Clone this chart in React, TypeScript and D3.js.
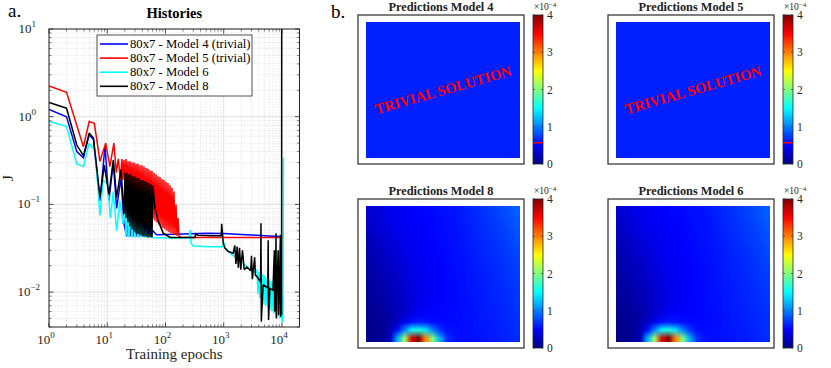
import React, { useMemo } from 'react';
import * as d3 from 'd3';

type Pt = [number, number];

// ---------- Histories (epoch, J) ----------
const historyModel4: Pt[] = [
  [1, 1.21], [2, 1.0], [3, 0.40], [3.9, 0.34], [4.9, 0.62], [5.8, 0.55], [7.5, 0.11], [9.15, 0.46],
  [10.7, 0.11], [12.7, 0.30], [14.5, 0.09], [17.2, 0.20], [19.4, 0.06], [21.6, 0.043], [23.6, 0.16],
  [24.6, 0.043], [26.6, 0.15], [27.7, 0.043], [30.0, 0.14], [31.2, 0.043], [33.7, 0.12], [35.1, 0.043],
  [38.0, 0.11], [39.5, 0.043], [42.7, 0.09], [44.5, 0.043], [48.1, 0.075], [50.1, 0.044], [54.2, 0.06],
  [56.4, 0.044], [61.0, 0.05], [70, 0.045], [100, 0.0455], [200, 0.046], [500, 0.047], [1000, 0.0465],
  [2000, 0.0455], [5000, 0.044], [9000, 0.043], [10200, 0.043],
];

const historyModel5: Pt[] = [
  [1, 2.24], [2, 1.9], [3.9, 0.455], [4.9, 0.88], [6.0, 0.84], [7.5, 0.31], [9.4, 0.5], [11.1, 0.27],
  [13.0, 0.5], [14.3, 0.23], [15.5, 0.33], [16.8, 0.19],
  [17.9, 0.33], [18.6, 0.19], [19.4, 0.32], [20.2, 0.17], [21.0, 0.33], [21.8, 0.15], [22.7, 0.31],
  [23.6, 0.14], [24.6, 0.31], [25.6, 0.13], [26.6, 0.30], [27.7, 0.125], [28.8, 0.30], [30.0, 0.12],
  [31.2, 0.29], [32.4, 0.11], [33.7, 0.29], [35.1, 0.105], [36.5, 0.28], [38.0, 0.098], [39.5, 0.28],
  [41.1, 0.092], [42.7, 0.27], [44.5, 0.086], [46.3, 0.26], [48.1, 0.081], [50.1, 0.255], [52.1, 0.077],
  [54.2, 0.245], [56.4, 0.073], [58.6, 0.24], [61.0, 0.069], [63.5, 0.23], [66.0, 0.065], [68.7, 0.22],
  [71.5, 0.062], [74.3, 0.21], [77.3, 0.059], [80.5, 0.205], [83.7, 0.056], [87.1, 0.195], [90.6, 0.054],
  [94.2, 0.19], [98.0, 0.052], [102, 0.18], [106.1, 0.05], [110.4, 0.175], [114.8, 0.048], [119.5, 0.165],
  [124.3, 0.047], [129.3, 0.155], [134.5, 0.046], [139.9, 0.14], [145.6, 0.045], [151.5, 0.1],
  [157.6, 0.044], [164, 0.07], [171, 0.043], [185, 0.042], [400, 0.0418], [1000, 0.042], [3000, 0.042],
  [10200, 0.042],
];

const historyModel6: Pt[] = [
  [1, 0.89], [2, 0.77], [3, 0.29], [3.9, 0.27], [4.9, 0.5], [6.2, 0.4], [7.5, 0.075], [8.5, 0.19],
  [10.2, 0.17], [11.3, 0.07], [12.7, 0.14], [14.5, 0.05], [16.5, 0.11], [18.6, 0.06], [20.2, 0.092],
  [21.0, 0.043], [22.7, 0.085], [23.6, 0.042], [25.6, 0.08], [26.6, 0.042], [28.8, 0.075], [30.0, 0.042],
  [32.4, 0.068], [33.7, 0.042], [36.5, 0.062], [38.0, 0.042], [41.1, 0.056], [42.7, 0.042], [46.3, 0.05],
  [48.1, 0.042], [52.1, 0.046], [60, 0.042], [100, 0.0415], [200, 0.0415], [255, 0.042], [265, 0.051],
  [275, 0.036], [300, 0.0335], [600, 0.033], [950, 0.033], [1000, 0.037], [1050, 0.032], [1450, 0.026],
  [2000, 0.0222], [3000, 0.0178], [3300, 0.0168], [3550, 0.018],
  [3722, 0.0175], [3873, 0.0095], [4030, 0.017], [4192, 0.0085], [4361, 0.0165], [4536, 0.0078],
  [4719, 0.016], [4909, 0.0072], [5107, 0.0155], [5313, 0.007], [5527, 0.0145], [5750, 0.0066],
  [5982, 0.014], [6223, 0.0063], [6474, 0.0135], [6735, 0.006], [7006, 0.013], [7289, 0.0057],
  [7582, 0.0125], [7888, 0.0055], [8206, 0.012], [8537, 0.0052], [8881, 0.0115], [9239, 0.005],
  [9612, 0.011], [10000, 0.0047], [10200, 0.009], [10403, 0.0045], [10600, 0.34],
];

const historyModel8: Pt[] = [
  [1, 1.45], [2, 1.25], [3, 0.475], [3.9, 0.36], [4.9, 0.65], [5.8, 0.57], [7.5, 0.12], [8.9, 0.28],
  [10.7, 0.13], [12.7, 0.32], [14.5, 0.12], [17.2, 0.25], [19.4, 0.078],
  [20.2, 0.23], [21.0, 0.07], [21.8, 0.23], [22.7, 0.062], [23.6, 0.22], [24.6, 0.056], [25.6, 0.22],
  [26.6, 0.052], [27.7, 0.21], [28.8, 0.049], [30.0, 0.21], [31.2, 0.047], [32.4, 0.2], [33.7, 0.046],
  [35.1, 0.2], [36.5, 0.045], [38.0, 0.19], [39.5, 0.044], [41.1, 0.19], [42.7, 0.043], [44.5, 0.185],
  [46.3, 0.043], [48.1, 0.18], [50.1, 0.042], [52.1, 0.175], [54.2, 0.042], [56.4, 0.17], [58.6, 0.042],
  [61.0, 0.165], [66, 0.09], [75.5, 0.064], [91.5, 0.047], [120, 0.042], [200, 0.0418], [320, 0.042],
  [330, 0.046], [360, 0.0445], [600, 0.044], [905, 0.044], [922, 0.06], [983, 0.036], [1047, 0.0317],
  [1200, 0.029], [1450, 0.0277], [1550, 0.034], [1620, 0.021], [1700, 0.033], [1780, 0.019],
  [1870, 0.032], [1960, 0.018], [2100, 0.03], [2250, 0.018], [2490, 0.0193], [2900, 0.0175],
  [3000, 0.026], [3100, 0.014], [3400, 0.025], [3500, 0.0155], [3700, 0.0151], [4300, 0.013],
  [4360, 0.061], [4420, 0.0046], [4750, 0.0122], [5700, 0.0112], [5800, 0.039], [5880, 0.0048],
  [6200, 0.011], [7000, 0.0105], [7400, 0.03], [7500, 0.006], [7800, 0.0104], [7900, 0.047],
  [8000, 0.005], [8170, 0.0102], [8600, 0.03], [8750, 0.0055], [9000, 0.01], [9400, 0.045],
  [9500, 0.0052], [9700, 0.01], [9850, 0.0055], [9900, 50],
];

const legendLabels = ['80x7 - Model 4 (trivial)', '80x7 - Model 5 (trivial)', '80x7 - Model 6', '80x7 - Model 8'];
const seriesColors = ['#0000ff', '#ff0000', '#00ffff', '#000000'];
const xTickExponents = [0, 1, 2, 3, 4];
const yTickExponents = [-2, -1, 0, 1];
const colorbarTicks = [0, 1, 2, 3, 4];

// ---------- Prediction fields (units of 1e-4) ----------
const fieldModel8: number[][] = [
  [.32, .36, .40, .43, .45, .48, .50, .51, .52, .53, .55, .56, .57, .60, .63, .66, .69, .72, .75, .79, .83, .88],
  [.30, .34, .38, .42, .44, .47, .49, .50, .51, .52, .54, .55, .56, .59, .62, .65, .68, .71, .74, .77, .81, .86],
  [.28, .32, .36, .40, .43, .46, .48, .49, .50, .52, .53, .55, .56, .58, .61, .64, .67, .70, .72, .75, .79, .84],
  [.25, .29, .34, .38, .41, .44, .47, .48, .50, .51, .53, .54, .56, .58, .60, .63, .66, .68, .71, .74, .77, .82],
  [.22, .26, .30, .35, .38, .42, .45, .47, .49, .50, .52, .54, .55, .57, .60, .62, .65, .67, .70, .72, .76, .80],
  [.20, .24, .28, .33, .36, .40, .44, .46, .48, .50, .52, .53, .55, .57, .59, .61, .64, .66, .68, .71, .74, .78],
  [.18, .22, .26, .30, .34, .38, .42, .45, .47, .49, .51, .53, .55, .56, .58, .61, .63, .65, .67, .70, .73, .77],
  [.16, .20, .24, .28, .32, .36, .41, .44, .46, .48, .50, .52, .54, .56, .58, .60, .62, .64, .66, .69, .72, .75],
  [.14, .18, .22, .26, .30, .35, .40, .43, .46, .48, .50, .52, .54, .55, .57, .59, .61, .63, .65, .68, .71, .74],
  [.12, .16, .20, .24, .28, .33, .38, .42, .45, .48, .50, .52, .53, .55, .57, .59, .61, .63, .65, .67, .70, .73],
  [.11, .14, .18, .22, .26, .31, .37, .41, .45, .48, .50, .52, .53, .55, .57, .59, .60, .62, .64, .66, .69, .72],
  [.10, .12, .16, .20, .25, .30, .36, .41, .45, .48, .50, .52, .53, .55, .56, .58, .60, .62, .64, .66, .68, .71],
  [.08, .10, .14, .18, .24, .30, .36, .42, .46, .49, .51, .52, .53, .54, .56, .58, .60, .61, .63, .65, .67, .70],
  [.07, .09, .12, .17, .24, .32, .40, .46, .50, .52, .52, .52, .53, .54, .56, .57, .59, .61, .62, .64, .66, .69],
  [.06, .08, .11, .17, .28, .42, .55, .60, .58, .54, .53, .53, .53, .54, .55, .57, .59, .60, .62, .64, .66, .69],
  [.05, .07, .10, .22, .55, 1.0, 1.5, 1.6, 1.4, 1.0, .70, .56, .55, .54, .55, .57, .58, .60, .61, .63, .65, .68],
  [.04, .06, .12, .25, 1.2, 2.1, 3.6, 4.0, 3.0, 2.0, 1.2, .70, .58, .55, .55, .56, .57, .59, .60, .62, .64, .67],
];
const fieldModel6: number[][] = fieldModel8;
const fieldModel4: number[][] = [[0.62]];
const fieldModel5: number[][] = [[0.62]];
const trivialMarkerValue = 0.57;

const FONT = "'Liberation Serif', 'Times New Roman', serif";
const AX = '#262626';

const jet = d3
  .scaleLinear<string>()
  .domain([0, 0.125, 0.375, 0.625, 0.875, 1].map((t) => t * 4))
  .range(['#000080', '#0000ff', '#00ffff', '#ffff00', '#ff0000', '#800000'])
  .clamp(true);

function fieldToUrl(field: number[][]): string {
  const rows = field.length;
  const cols = field[0].length;
  const canvas = document.createElement('canvas');
  canvas.width = cols;
  canvas.height = rows;
  const ctx = canvas.getContext('2d')!;
  const img = ctx.createImageData(cols, rows);
  field.forEach((row, j) =>
    row.forEach((v, i) => {
      const c = d3.rgb(jet(v));
      const k = (j * cols + i) * 4;
      img.data[k] = c.r;
      img.data[k + 1] = c.g;
      img.data[k + 2] = c.b;
      img.data[k + 3] = 255;
    })
  );
  ctx.putImageData(img, 0, 0);
  return canvas.toDataURL();
}

function Pow10({ x, y, exp, anchor }: { x: number; y: number; exp: number; anchor: 'middle' | 'end' }) {
  const e = exp < 0 ? '\u2212' + Math.abs(exp) : String(exp);
  return (
    <text x={x} y={y} textAnchor={anchor} fontFamily={FONT} fontSize={13} fill={AX}>
      10
      <tspan dy={-6} fontSize={9}>{e}</tspan>
    </text>
  );
}

function HistoryPlot() {
  const x = d3.scaleLog().domain([1, 2e4]).range([49, 299.5]);
  const y = d3.scaleLog().domain([0.004, 10]).range([327, 29]);
  const [x0, x1] = x.range();
  const [y0, y1] = [y.range()[1], y.range()[0]];
  const line = d3
    .line<Pt>()
    .x((d) => x(d[0]))
    .y((d) => y(d[1]));

  const xMinor: number[] = [];
  for (let k = 0; k <= 4; k++) for (let m = 2; m <= 9; m++) if (m * 10 ** k < 2e4) xMinor.push(m * 10 ** k);
  const yMinor: number[] = [];
  for (let k = -3; k <= 0; k++) for (let m = 2; m <= 9; m++) {
    const v = m * 10 ** k;
    if (v > 0.0039 && v < 10) yMinor.push(v);
  }
  const series = [historyModel4, historyModel5, historyModel6, historyModel8];

  return (
    <g>
      <text x={8} y={17} fontFamily={FONT} fontSize={19} fill="#000">a.</text>
      <text x={(x0 + x1) / 2} y={18} textAnchor="middle" fontFamily={FONT} fontWeight="bold" fontSize={14.5} fill="#000">
        Histories
      </text>
      <rect x={x0} y={y0} width={x1 - x0} height={y1 - y0} fill="#fff" />
      {xMinor.map((v) => (
        <line key={'xm' + v} x1={x(v)} x2={x(v)} y1={y0} y2={y1} stroke="#cfcfcf" strokeWidth={0.6} strokeDasharray="1 1.6" />
      ))}
      {yMinor.map((v) => (
        <line key={'ym' + v} x1={x0} x2={x1} y1={y(v)} y2={y(v)} stroke="#cfcfcf" strokeWidth={0.6} strokeDasharray="1 1.6" />
      ))}
      {xTickExponents.map((e) => (
        <line key={'xg' + e} x1={x(10 ** e)} x2={x(10 ** e)} y1={y0} y2={y1} stroke="#d9d9d9" strokeWidth={0.8} />
      ))}
      {yTickExponents.map((e) => (
        <line key={'yg' + e} x1={x0} x2={x1} y1={y(10 ** e)} y2={y(10 ** e)} stroke="#d9d9d9" strokeWidth={0.8} />
      ))}
      <defs>
        <clipPath id="histClip">
          <rect x={x0} y={y0} width={x1 - x0} height={y1 - y0} />
        </clipPath>
      </defs>
      <g clipPath="url(#histClip)">
        {series.map((s, i) => (
          <path key={i} d={line(s) || ''} fill="none" stroke={seriesColors[i]} strokeWidth={1.5} strokeLinejoin="miter" strokeMiterlimit={2} />
        ))}
      </g>
      {xTickExponents.map((e) => (
        <g key={'xt' + e}>
          <line x1={x(10 ** e)} x2={x(10 ** e)} y1={y1} y2={y1 - 4.5} stroke={AX} strokeWidth={0.8} />
          <line x1={x(10 ** e)} x2={x(10 ** e)} y1={y0} y2={y0 + 4.5} stroke={AX} strokeWidth={0.8} />
          <Pow10 x={x(10 ** e) - 3} y={344} exp={e} anchor="middle" />
        </g>
      ))}
      {xMinor.map((v) => (
        <g key={'xmt' + v}>
          <line x1={x(v)} x2={x(v)} y1={y1} y2={y1 - 2.5} stroke={AX} strokeWidth={0.6} />
          <line x1={x(v)} x2={x(v)} y1={y0} y2={y0 + 2.5} stroke={AX} strokeWidth={0.6} />
        </g>
      ))}
      {yTickExponents.map((e) => (
        <g key={'yt' + e}>
          <line x1={x0} x2={x0 + 4.5} y1={y(10 ** e)} y2={y(10 ** e)} stroke={AX} strokeWidth={0.8} />
          <line x1={x1} x2={x1 - 4.5} y1={y(10 ** e)} y2={y(10 ** e)} stroke={AX} strokeWidth={0.8} />
          <Pow10 x={e < 0 ? 40 : 36} y={y(10 ** e) + 4} exp={e} anchor="end" />
        </g>
      ))}
      {yMinor.map((v) => (
        <g key={'ymt' + v}>
          <line x1={x0} x2={x0 + 2.5} y1={y(v)} y2={y(v)} stroke={AX} strokeWidth={0.6} />
          <line x1={x1} x2={x1 - 2.5} y1={y(v)} y2={y(v)} stroke={AX} strokeWidth={0.6} />
        </g>
      ))}
      <rect x={x0} y={y0} width={x1 - x0} height={y1 - y0} fill="none" stroke={AX} strokeWidth={1} />
      <text x={(x0 + x1) / 2} y={359} textAnchor="middle" fontFamily={FONT} fontSize={15} fill={AX}>
        Training epochs
      </text>
      <text transform={`translate(13,${(y0 + y1) / 2}) rotate(-90)`} textAnchor="middle" fontFamily={FONT} fontSize={15} fill={AX}>
        J
      </text>
      <rect x={97} y={35} width={155} height={61} fill="#fff" stroke={AX} strokeWidth={0.8} />
      {legendLabels.map((lab, i) => (
        <g key={lab}>
          <line x1={100} x2={128} y1={44 + 14.1 * i} y2={44 + 14.1 * i} stroke={seriesColors[i]} strokeWidth={1.6} />
          <text x={130} y={48 + 14.1 * i} fontFamily={FONT} fontSize={12.7} fill="#000">
            {lab}
          </text>
        </g>
      ))}
    </g>
  );
}

function PredictionPanel({
  ox,
  oy,
  title,
  field,
  trivial,
  gradId,
}: {
  ox: number;
  oy: number;
  title: string;
  field: number[][];
  trivial: boolean;
  gradId: string;
}) {
  const url = useMemo(() => fieldToUrl(field), [field]);
  const boxW = 166;
  const boxH = 149;
  const ix = ox + 8;
  const iy = oy + 7;
  const iw = 154;
  const ih = 136;
  const cbX = ox + 175;
  const cbW = 10;
  const cb = d3.scaleLinear().domain([0, 4]).range([oy + boxH, oy]);
  const stops = jet.domain();
  return (
    <g>
      <text x={ox + 83} y={oy - 4} textAnchor="middle" fontFamily={FONT} fontWeight="bold" fontSize={12.3} fill="#222">
        {title}
      </text>
      <rect x={ox} y={oy} width={boxW} height={boxH} fill="#fff" stroke="#3a3a3a" strokeWidth={1.3} />
      <image href={url} x={ix} y={iy} width={iw} height={ih} preserveAspectRatio="none" />
      {trivial && (
        <text
          transform={`translate(${ix + iw / 2},${iy + ih / 2}) rotate(-16)`}
          textAnchor="middle"
          dominantBaseline="central"
          fontFamily={FONT}
          fontWeight="bold"
          fontSize={14.5}
          fill="#ff0000"
        >
          TRIVIAL SOLUTION
        </text>
      )}
      <defs>
        <linearGradient id={gradId} x1="0" y1="1" x2="0" y2="0">
          {stops.map((s) => (
            <stop key={s} offset={s / 4} stopColor={jet(s)} />
          ))}
        </linearGradient>
      </defs>
      <rect x={cbX} y={oy} width={cbW} height={boxH} fill={`url(#${gradId})`} />
      {trivial && (
        <line x1={cbX} x2={cbX + cbW} y1={cb(trivialMarkerValue)} y2={cb(trivialMarkerValue)} stroke="#ff0000" strokeWidth={1.5} />
      )}
      {colorbarTicks.map((t) => (
        <g key={t}>
          <line x1={cbX} x2={cbX + 2} y1={cb(t)} y2={cb(t)} stroke={AX} strokeWidth={0.6} />
          <line x1={cbX + cbW} x2={cbX + cbW - 2} y1={cb(t)} y2={cb(t)} stroke={AX} strokeWidth={0.6} />
          <text x={cbX + 14} y={cb(t) + 4} fontFamily={FONT} fontSize={11.5} fill={AX}>
            {t}
          </text>
        </g>
      ))}
      <rect x={cbX} y={oy} width={cbW} height={boxH} fill="none" stroke={AX} strokeWidth={0.8} />
      <text x={cbX + 1} y={oy - 5} fontFamily={FONT} fontSize={9.5} fill={AX}>
        {'\u00d710'}
        <tspan dy={-3.5} fontSize={7}>{'\u22124'}</tspan>
      </text>
    </g>
  );
}

export default function App() {
  return (
    <div style={{ position: 'absolute', left: 0, top: 0, width: 831, height: 368, background: '#fff' }}>
      <svg width={831} height={368} viewBox="0 0 831 368" style={{ display: 'block' }}>
        <rect width={831} height={368} fill="#fff" />
        <HistoryPlot />
        <text x={331} y={18} fontFamily={FONT} fontSize={19} fill="#000">b.</text>
        <PredictionPanel ox={358} oy={15} title="Predictions Model 4" field={fieldModel4} trivial gradId="cb4" />
        <PredictionPanel ox={608} oy={15} title="Predictions Model 5" field={fieldModel5} trivial gradId="cb5" />
        <PredictionPanel ox={358} oy={199} title="Predictions Model 8" field={fieldModel8} trivial={false} gradId="cb8" />
        <PredictionPanel ox={608} oy={199} title="Predictions Model 6" field={fieldModel6} trivial={false} gradId="cb6" />
      </svg>
    </div>
  );
}
